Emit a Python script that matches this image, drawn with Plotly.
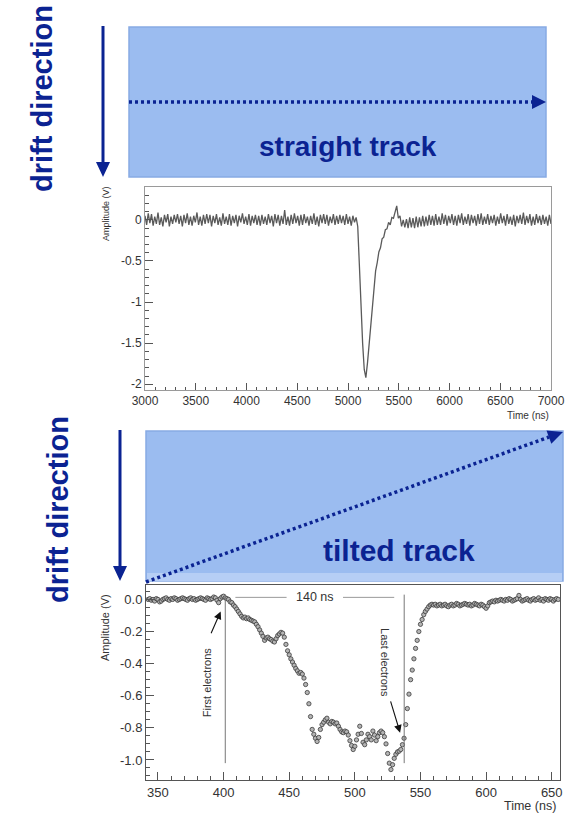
import plotly.graph_objects as go

# ---------------- data: straight track (top waveform) ----------------
straight_t0 = 3000.0
straight_dt = 16.0
straight_amp_before = [
    0.05, -0.06, 0.08, -0.04, 0.07, -0.07, 0.04, -0.05, 0.09, -0.06,
    0.03, -0.08, 0.06, -0.03, 0.07, -0.08, 0.04, -0.05, 0.06, -0.03,
    0.07, -0.05, 0.05, -0.08, 0.06, -0.04, 0.08, -0.06, 0.04, -0.07,
    0.05, -0.03, 0.09, -0.06, 0.04, -0.07, 0.06, -0.05, 0.07, -0.04,
    0.06, -0.08, 0.05, -0.04, 0.07, -0.06, 0.03, -0.07, 0.08, -0.05,
    0.04, -0.06, 0.07, -0.07, 0.05, -0.04, 0.06, -0.08, 0.05, -0.03,
    0.08, -0.05, 0.04, -0.06, 0.07, -0.07, 0.05, -0.04, 0.06, -0.06,
    0.05, -0.07, 0.06, -0.05, 0.04, -0.06, 0.07, -0.04, 0.05, -0.08,
    0.07, -0.04, 0.06, -0.07, 0.05, -0.05, 0.12, -0.06, 0.04, -0.07,
    0.06, -0.05, 0.08, -0.04, 0.05, -0.07, 0.06, -0.06, 0.07, -0.04,
    0.04, -0.07, 0.05, -0.05, 0.08, -0.06, 0.04, -0.08, 0.06, -0.04,
    0.07, -0.05, 0.06, -0.07, 0.04, -0.04, 0.07, -0.06, 0.05, -0.05,
    0.06, -0.04, 0.05, -0.06, 0.07, -0.05, 0.04, -0.07, 0.05, -0.03,
]
straight_amp_pulse = [
    0.03, -0.08, -0.55, -1.05, -1.50, -1.82, -1.92, -1.74, -1.52, -1.27,
    -1.02, -0.82, -0.62, -0.52, -0.39, -0.34, -0.23, -0.21, -0.12, -0.11,
    -0.03, -0.06, 0.03, 0.02, 0.09, 0.17, 0.02, 0.05, -0.08, 0.00,
    -0.09,
]
straight_amp_after = [
    0.01, -0.10, 0.03, -0.09, 0.02, -0.10, 0.04, -0.09, 0.03, -0.08,
    0.05, -0.08, 0.04, -0.07, 0.06, -0.06, 0.05, -0.07, 0.07, -0.06,
    0.04, -0.06, 0.08, -0.05, 0.06, -0.07, 0.05, -0.04, 0.07, -0.06,
    0.05, -0.07, 0.06, -0.04, 0.08, -0.06, 0.04, -0.05, 0.07, -0.07,
    0.06, -0.04, 0.05, -0.07, 0.07, -0.05, 0.08, -0.06, 0.04, -0.05,
    0.07, -0.06, 0.05, -0.04, 0.06, -0.07, 0.04, -0.05, 0.08, -0.04,
    0.05, -0.07, 0.07, -0.05, 0.04, -0.06, 0.06, -0.08, 0.05, -0.04,
    0.06, -0.05, 0.09, -0.06, 0.05, -0.04, 0.07, -0.07, 0.04, -0.06,
    0.07, -0.04, 0.05, -0.06, 0.06, -0.05, 0.04, -0.07, 0.06, -0.05,
]
straight_amp = straight_amp_before + straight_amp_pulse + straight_amp_after
straight_time = [straight_t0 + straight_dt * i for i in range(len(straight_amp))]

straight_xticks = [3000, 3500, 4000, 4500, 5000, 5500, 6000, 6500, 7000]
straight_yticks = [0, -0.5, -1, -1.5, -2]
straight_yticktext = ["0", "-0.5", "-1", "-1.5", "-2"]

# ---------------- data: tilted track (bottom waveform) ----------------
tilted_t0 = 342.5
tilted_dt = 1.25
tilted_amp_before = [
    0.00, 0.005, -0.005, 0.0, -0.01, 0.005, 0.0, -0.015, -0.01, 0.0,
    0.005, 0.01, 0.0, -0.005, 0.005, 0.0, 0.01, 0.005, -0.005, 0.0,
    0.005, 0.01, 0.005, 0.0, -0.005, 0.005, 0.01, 0.0, 0.005, -0.005,
    0.0, 0.005, 0.01, 0.005, 0.0, -0.005, 0.01, 0.005, 0.0, 0.005,
    0.015, 0.01, -0.005, -0.02, 0.005, 0.015, 0.02,
]
tilted_amp_pulse = [
    0.01, 0.005, 0.0, -0.015, -0.02, -0.035, -0.045, -0.06, -0.075, -0.09,
    -0.105, -0.115, -0.11, -0.12, -0.115, -0.125, -0.13, -0.135, -0.14, -0.155,
    -0.17, -0.19, -0.21, -0.23, -0.255, -0.24, -0.235, -0.245, -0.25, -0.26,
    -0.265, -0.245, -0.225, -0.215, -0.205, -0.21, -0.235, -0.28, -0.32, -0.345,
    -0.37, -0.39, -0.41, -0.43, -0.445, -0.46, -0.455, -0.465, -0.49, -0.53,
    -0.58, -0.65, -0.73, -0.81, -0.84, -0.865, -0.885, -0.86, -0.81, -0.78,
    -0.765, -0.75, -0.74, -0.765, -0.775, -0.76, -0.765, -0.775, -0.77, -0.79,
    -0.81, -0.825, -0.83, -0.82, -0.825, -0.845, -0.88, -0.91, -0.935, -0.915,
    -0.875, -0.84, -0.79, -0.835, -0.89, -0.905, -0.875, -0.84, -0.855, -0.875,
    -0.82, -0.845, -0.88, -0.855, -0.83, -0.82, -0.83, -0.855, -0.9, -0.96,
    -1.02, -1.06, -1.03, -0.99, -0.965, -0.95, -0.945, -0.935, -0.905, -0.865,
    -0.78, -0.68, -0.59, -0.5, -0.44, -0.37, -0.305, -0.255, -0.2, -0.155,
    -0.125, -0.095, -0.075, -0.06, -0.045, -0.035,
]
tilted_amp_after = [
    -0.03, -0.035, -0.03, -0.04, -0.035, -0.03, -0.04, -0.035, -0.03, -0.04,
    -0.045, -0.035, -0.03, -0.04, -0.035, -0.025, -0.03, -0.04, -0.035, -0.03,
    -0.025, -0.03, -0.035, -0.03, -0.04, -0.035, -0.025, -0.03, -0.035, -0.04,
    -0.03, -0.035, -0.045, -0.055, -0.04, -0.02, -0.015, -0.01, -0.015, -0.005,
    -0.01, -0.005, 0.0, -0.005, -0.01, 0.0, -0.005, 0.005, 0.0, -0.01,
    -0.005, 0.0, 0.005, 0.025, 0.0, -0.01, -0.005, 0.0, 0.005, -0.005,
    -0.01, 0.0, 0.005, -0.005, 0.0, 0.01, -0.005, 0.0, -0.01, 0.005,
    0.0, -0.005, 0.005, 0.0, -0.01, 0.0, 0.005, 0.0,
]
tilted_amp = tilted_amp_before + tilted_amp_pulse + tilted_amp_after
tilted_time = [tilted_t0 + tilted_dt * i for i in range(len(tilted_amp))]

tilted_xticks = [350, 400, 450, 500, 550, 600, 650]
tilted_yticks = [0.0, -0.2, -0.4, -0.6, -0.8, -1.0]
tilted_yticktext = ["0.0", "-0.2", "-0.4", "-0.6", "-0.8", "-1.0"]

first_electrons_t = 401.3
last_electrons_t = 537.6
marker_line_top = 0.03
marker_line_bottom = -1.02
span_label = "140 ns"

# ---------------- figure ----------------
W, H = 573, 813


def px(x):
    return x / W


def py(y):
    return 1 - y / H


NAVY = "#0b2392"
BLUE_FILL = "#9bbcf0"
BLUE_EDGE = "#88aae4"
FONT = "Liberation Sans"
TXT = "#333333"

fig = go.Figure()

fig.add_trace(go.Scatter(
    x=straight_time, y=straight_amp, mode="lines",
    line=dict(color="#5a5a5a", width=1.3),
    xaxis="x", yaxis="y", showlegend=False, hoverinfo="skip",
))

fig.add_trace(go.Scatter(
    x=tilted_time, y=tilted_amp, mode="markers",
    marker=dict(symbol="circle", size=4.3, color="#b4b4b4",
                line=dict(color="#3a3a3a", width=0.8)),
    xaxis="x2", yaxis="y2", showlegend=False, hoverinfo="skip",
))


def axis(**kw):
    base = dict(showgrid=False, zeroline=False, showline=True, mirror=True,
                ticks="inside", tickcolor="#555555", automargin=False)
    base.update(kw)
    return base


fig.update_layout(
    template="none",
    width=W, height=H,
    margin=dict(l=0, r=0, t=0, b=0, pad=0),
    paper_bgcolor="white", plot_bgcolor="white",
    showlegend=False,
    xaxis=axis(domain=[px(145), px(551)], range=[3000, 7000], anchor="y",
               tickmode="array", tickvals=straight_xticks, ticklen=7,
               linecolor="#9a9a9a", tickfont=dict(family=FONT, size=12, color=TXT),
               minor=dict(ticks="inside", ticklen=3.5, tick0=0, dtick=100, tickcolor="#555555")),
    yaxis=axis(domain=[py(390), py(187)], range=[-2.07, 0.40], anchor="x",
               tickmode="array", tickvals=straight_yticks, ticktext=straight_yticktext,
               ticklen=8, linecolor="#9a9a9a", tickfont=dict(family=FONT, size=12, color=TXT),
               minor=dict(ticks="inside", ticklen=4, tick0=0, dtick=0.1, tickcolor="#555555")),
    xaxis2=axis(domain=[px(146), px(560)], range=[340.9, 656.3], anchor="y2",
                tickmode="array", tickvals=tilted_xticks, ticklen=8,
                linecolor="#555555", tickfont=dict(family=FONT, size=13, color=TXT),
                minor=dict(ticks="inside", ticklen=4, tick0=0, dtick=10, tickcolor="#555555")),
    yaxis2=axis(domain=[py(780), py(585)], range=[-1.125, 0.09], anchor="x2",
                tickmode="array", tickvals=tilted_yticks, ticktext=tilted_yticktext,
                ticklen=8, linecolor="#555555", tickfont=dict(family=FONT, size=13, color=TXT),
                minor=dict(ticks="inside", ticklen=4, tick0=0, dtick=0.05, tickcolor="#555555")),
    font=dict(family=FONT, color=TXT),
)

shapes = []
annotations = []


def paper_text(text, x, y, size, color=TXT, angle=0, bold=False, xanchor="center"):
    font = dict(family=FONT, size=size, color=color)
    if bold:
        font["weight"] = "bold"
    annotations.append(dict(text=text, xref="paper", yref="paper", x=px(x), y=py(y),
                            xanchor=xanchor, yanchor="middle", showarrow=False,
                            textangle=angle, font=font))


# ---- top diagram ----
shapes.append(dict(type="rect", xref="paper", yref="paper",
                   x0=px(129), x1=px(546), y0=py(177), y1=py(27),
                   fillcolor=BLUE_FILL, line=dict(color=BLUE_EDGE, width=1.5), layer="below"))
shapes.append(dict(type="line", xref="paper", yref="paper",
                   x0=px(129), x1=px(533), y0=py(102), y1=py(102),
                   line=dict(color=NAVY, width=3.5, dash="3px,3px")))
shapes.append(dict(type="path", xref="paper", yref="paper",
                   path=f"M {px(532)} {py(95)} L {px(546)} {py(102)} L {px(532)} {py(109)} Z",
                   fillcolor=NAVY, line=dict(color=NAVY, width=0)))
shapes.append(dict(type="line", xref="paper", yref="paper",
                   x0=px(103), x1=px(103), y0=py(26), y1=py(163),
                   line=dict(color=NAVY, width=3)))
shapes.append(dict(type="path", xref="paper", yref="paper",
                   path=f"M {px(96)} {py(162)} L {px(110)} {py(162)} L {px(103)} {py(177)} Z",
                   fillcolor=NAVY, line=dict(color=NAVY, width=0)))
paper_text("drift direction", 42, 99, 29, NAVY, angle=-90, bold=True)
paper_text("straight track", 348, 146, 28, NAVY, bold=True)

# ---- bottom diagram ----
shapes.append(dict(type="rect", xref="paper", yref="paper",
                   x0=px(146), x1=px(563), y0=py(581), y1=py(431),
                   fillcolor=BLUE_FILL, line=dict(color=BLUE_EDGE, width=1.5), layer="below"))
shapes.append(dict(type="rect", xref="paper", yref="paper",
                   x0=px(147), x1=px(562), y0=py(581), y1=py(573),
                   fillcolor="#b6cef5", line=dict(width=0), layer="below"))
shapes.append(dict(type="line", xref="paper", yref="paper",
                   x0=px(146), x1=px(549), y0=py(582), y1=py(437),
                   line=dict(color=NAVY, width=3.5, dash="3px,3px")))
shapes.append(dict(type="path", xref="paper", yref="paper",
                   path=f"M {px(551.3)} {py(443.7)} L {px(563)} {py(432)} L {px(546.5)} {py(430.5)} Z",
                   fillcolor=NAVY, line=dict(color=NAVY, width=0)))
shapes.append(dict(type="line", xref="paper", yref="paper",
                   x0=px(120), x1=px(120), y0=py(430), y1=py(567),
                   line=dict(color=NAVY, width=3)))
shapes.append(dict(type="path", xref="paper", yref="paper",
                   path=f"M {px(113)} {py(566)} L {px(127)} {py(566)} L {px(120)} {py(581)} Z",
                   fillcolor=NAVY, line=dict(color=NAVY, width=0)))
paper_text("drift direction", 58, 510, 29, NAVY, angle=-90, bold=True)
paper_text("tilted track", 399, 550, 30, NAVY, bold=True)

# ---- axis titles ----
paper_text("Amplitude (V)", 106, 214, 9, angle=-90)
paper_text("Time (ns)", 551, 415, 10, xanchor="right")
paper_text("Amplitude (V)", 105, 628, 11, angle=-90)
paper_text("Time (ns)", 558, 806, 12.5, xanchor="right")

# ---- bottom plot markers ----
for t in (first_electrons_t, last_electrons_t):
    shapes.append(dict(type="line", xref="x2", yref="y2",
                       x0=t, x1=t, y0=marker_line_top, y1=marker_line_bottom,
                       line=dict(color="#777777", width=1)))
shapes.append(dict(type="line", xref="x2", yref="y2", x0=409, x1=448, y0=0.013, y1=0.013,
                   line=dict(color="#999999", width=1)))
shapes.append(dict(type="line", xref="x2", yref="y2", x0=491, x1=530, y0=0.013, y1=0.013,
                   line=dict(color="#999999", width=1)))
annotations.append(dict(text=span_label, xref="x2", yref="y2", x=469.5, y=0.015,
                        xanchor="center", yanchor="middle",
                        showarrow=False, font=dict(family=FONT, size=12.5, color=TXT)))
annotations.append(dict(text="First electrons", xref="x2", yref="y2", x=387.5, y=-0.515,
                        xanchor="center", yanchor="middle",
                        showarrow=False, textangle=-90,
                        font=dict(family=FONT, size=11, color=TXT)))
annotations.append(dict(text="Last electrons", xref="x2", yref="y2", x=523, y=-0.39,
                        xanchor="center", yanchor="middle",
                        showarrow=False, textangle=90,
                        font=dict(family=FONT, size=11, color=TXT)))
annotations.append(dict(text="", xref="x2", yref="y2", axref="x2", ayref="y2",
                        x=397.8, y=-0.075, ax=390, ay=-0.22, showarrow=True,
                        arrowhead=2, arrowsize=1.4, arrowwidth=1.1, arrowcolor="#111111"))
annotations.append(dict(text="", xref="x2", yref="y2", axref="x2", ayref="y2",
                        x=534.5, y=-0.83, ax=526.9, ay=-0.626, showarrow=True,
                        arrowhead=2, arrowsize=1.4, arrowwidth=1.1, arrowcolor="#111111"))

fig.update_layout(shapes=shapes, annotations=annotations)

fig.write_html(
    "out.html",
    config={"displayModeBar": False},
    post_script="document.body.style.margin='0';document.body.style.overflow='hidden';",
)
